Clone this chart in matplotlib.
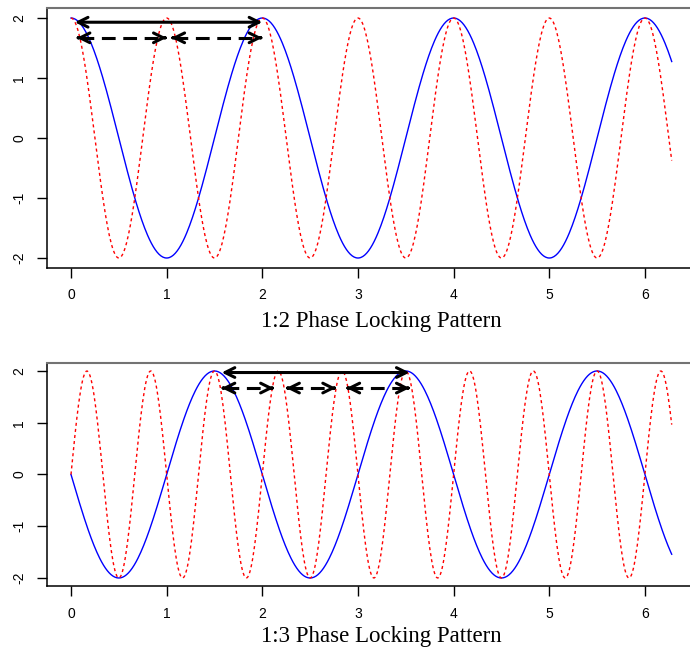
import numpy as np
from matplotlib import pyplot as plt

# x grid and wave parameters (amplitude, cycles per unit x, phase)
x_end = 6.283
x_step = 0.01
amp = 2.0

# top panel: 1:2 locking
top_blue = dict(freq=0.5, kind='cos', sign=1)
top_red = dict(freq=1.0, kind='cos', sign=1)
# bottom panel: 1:3 locking
bot_blue = dict(freq=0.5, kind='sin', sign=-1)
bot_red = dict(freq=1.5, kind='sin', sign=1)

titles = ["1:2 Phase Locking Pattern", "1:3 Phase Locking Pattern"]
x_ticks = [0, 1, 2, 3, 4, 5, 6]
y_ticks = [-2, -1, 0, 1, 2]

# arrows: (x_start, x_end, y, dashed)
top_arrows = [(0.04, 2.0, 1.93, False),
              (0.06, 1.0, 1.67, True),
              (1.05, 2.0, 1.67, True)]
bot_arrows = [(1.575, 3.54, 1.97, False),
              (1.575, 2.12, 1.67, True),
              (2.25, 2.77, 1.67, True),
              (2.88, 3.54, 1.67, True)]

x = np.arange(0, x_end + 1e-9, x_step)

def wave(p):
    f = np.cos if p['kind'] == 'cos' else np.sin
    return p['sign'] * amp * f(2 * np.pi * p['freq'] * x)

def draw_arrow(ax, x0, x1, y, dashed):
    head = dict(arrowstyle='->,head_length=0.7,head_width=0.35', lw=2.2,
                color='black', shrinkA=0, shrinkB=0)
    if dashed:
        ax.plot([x0 + 0.03, x1 - 0.03], [y, y], color='black', lw=2.2,
                dashes=(4.5, 2.5), solid_capstyle='butt', clip_on=False)
        ax.annotate('', xy=(x0, y), xytext=(x0 + 0.02, y), arrowprops=head)
        ax.annotate('', xy=(x1, y), xytext=(x1 - 0.02, y), arrowprops=head)
    else:
        head['arrowstyle'] = '<->,head_length=0.7,head_width=0.35'
        ax.annotate('', xy=(x1, y), xytext=(x0, y), arrowprops=head)

def setup(ax):
    ax.set_xlim(-0.251, 6.534)
    ax.set_ylim(-2.16, 2.16)
    ax.set_xticks(x_ticks)
    ax.set_yticks(y_ticks)
    ax.set_yticklabels([str(v) for v in y_ticks])
    ax.tick_params(length=7, width=1, direction='out', pad=8, labelsize=10)
    ax.tick_params(axis='y', labelrotation=90)
    for lab in ax.get_yticklabels():
        lab.set_va('center')
    for s in ['left', 'bottom', 'right']:
        ax.spines[s].set_linewidth(1.1)
    ax.spines['top'].set_color('0.45')
    ax.spines['top'].set_linewidth(1.5)

plt.rcParams['font.family'] = ['Liberation Sans', 'DejaVu Sans']

fig = plt.figure(figsize=(6.9, 6.58), dpi=100)
ax1 = fig.add_axes([0.0681, 0.5933, 0.9406, 0.3939])
ax2 = fig.add_axes([0.0681, 0.109, 0.9406, 0.3398])

ax1.plot(x, wave(top_blue), color='#0000ff', lw=1.0)
ax1.plot(x, wave(top_red), color='#ff0000', lw=1.0, dashes=(2.2, 2.2))
ax2.plot(x, wave(bot_blue), color='#0000ff', lw=1.0)
ax2.plot(x, wave(bot_red), color='#ff0000', lw=1.0, dashes=(2.2, 2.2))

for ax, arrows in [(ax1, top_arrows), (ax2, bot_arrows)]:
    setup(ax)
    for a in arrows:
        draw_arrow(ax, *a)

fig.text(0.553, 1 - 327 / 658, titles[0], ha='center', va='baseline',
         family='Liberation Serif', fontsize=16.5)
fig.text(0.553, 1 - 642 / 658, titles[1], ha='center', va='baseline',
         family='Liberation Serif', fontsize=16.5)

fig.savefig('out.png', dpi=100)
